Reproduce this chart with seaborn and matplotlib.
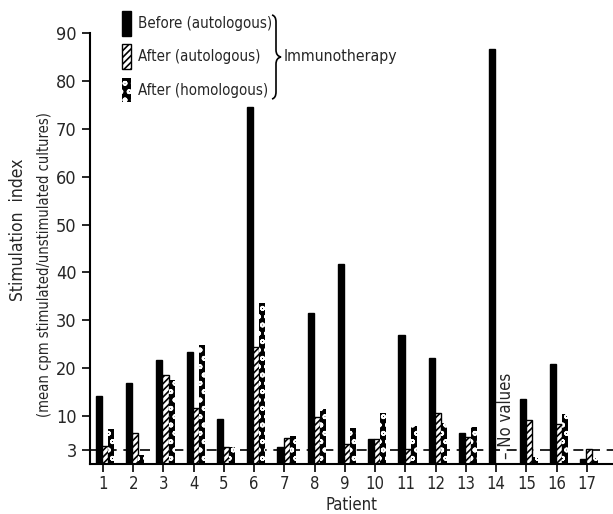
import numpy as np
import pandas as pd
import matplotlib
matplotlib.use("Agg")
import matplotlib.pyplot as plt
import seaborn as sns
from matplotlib.patches import Patch, PathPatch
from matplotlib.path import Path

# values (stimulation index per patient)
patients = [str(i) for i in range(1, 18)]
series = ["Before (autologous)", "After (autologous)", "After (homologous)"]
before_auto = [14.2, 17.0, 21.7, 23.4, 9.4, 74.6, 3.6, 31.5, 41.8, 5.2, 26.9, 22.1, 6.5, 86.6, 13.6, 20.9, 1.0]
after_auto = [3.8, 6.5, 18.6, 11.7, 3.5, 24.4, 5.4, 9.8, 4.2, 5.2, 3.2, 10.6, 5.7, np.nan, 9.2, 8.4, 3.1]
after_homo = [7.3, 1.9, 17.5, 24.8, 3.6, 33.6, 5.8, 11.5, 7.5, 10.6, 7.9, 8.6, 7.8, np.nan, 1.5, 10.4, 1.5]
y_ticks = [3, 10, 20, 30, 40, 50, 60, 70, 80, 90]
threshold = 3

df = pd.DataFrame({
    "patient": patients * 3,
    "group": [s for s in series for _ in patients],
    "value": before_auto + after_auto + after_homo,
})

sns.set_style("ticks")
plt.rcParams["font.family"] = ["DejaVu Sans"]
plt.rcParams["font.stretch"] = "condensed"
plt.rcParams["hatch.linewidth"] = 1.2

fig = plt.figure(figsize=(6.13, 5.14), dpi=100)
ax = fig.add_axes([90 / 613, 50 / 514, 523 / 613, 431 / 514])

sns.barplot(data=df, x="patient", y="value", hue="group", hue_order=series,
            palette=["black", "white", "black"], width=0.6, errorbar=None,
            edgecolor="black", linewidth=1, legend=False, ax=ax)

# hatching: diagonal stripes for "after autologous", white dots for "after homologous"
for p in ax.containers[1]:
    p.set_hatch("/////")
for p in ax.containers[2]:
    p.set_facecolor("black")
    p.set_edgecolor("white")
    p.set_linewidth(0)
    p.set_hatch("oo")

ax.axhline(threshold, color="black", linestyle=(0, (6, 4)), linewidth=1.2, zorder=0)

ax.set_xlim(-0.496, 16.79)
ax.set_ylim(0, 90)
ax.set_yticks(y_ticks)
ax.set_yticklabels([str(t) for t in y_ticks], fontsize=13)
ax.set_xticks([i - 0.07 for i in range(len(patients))])
ax.set_xticklabels(patients, fontsize=12)
ax.tick_params(axis="both", direction="out", length=6, width=1.2, color="black")
ax.tick_params(axis="x", pad=2)
ax.set_xlabel("Patient", fontsize=12, labelpad=2)
ax.set_ylabel("")
sns.despine(ax=ax)
for s in ["left", "bottom"]:
    ax.spines[s].set_linewidth(1.5)
    ax.spines[s].set_color("black")

ax.text(13.27, 1.0, "– No values", rotation=90, ha="center", va="bottom", fontsize=12)

fig.text(18 / 613, 1 - 230 / 514, "Stimulation  index", rotation=90,
         ha="center", va="center", fontsize=12.5)
fig.text(45 / 613, 1 - 265 / 514, "(mean cpm stimulated/unstimulated cultures)",
         rotation=90, ha="center", va="center", fontsize=10.5)

# legend with tall narrow swatches
handles = [
    Patch(facecolor="black", edgecolor="black", label=series[0]),
    Patch(facecolor="white", edgecolor="black", hatch="/////", label=series[1]),
    Patch(facecolor="black", edgecolor="white", linewidth=0, hatch="oo", label=series[2]),
]
ax.legend(handles=handles, loc="upper left", bbox_to_anchor=(32 / 523, 1 + 22 / 431),
          frameon=False, fontsize=10.8, handlelength=0.6, handleheight=2.15,
          labelspacing=0.58, handletextpad=0.5, borderpad=0, borderaxespad=0)

# curly brace grouping the legend entries
W, H = 613, 514
pts = [(272, 15), (276, 16), (276, 22), (276, 50), (276, 56), (281, 57),
       (276, 58), (276, 64), (276, 92), (276, 98), (272, 99)]
verts = [(x / W, 1 - y / H) for x, y in pts]
codes = [Path.MOVETO, Path.CURVE3, Path.CURVE3, Path.LINETO, Path.CURVE3, Path.CURVE3,
         Path.CURVE3, Path.CURVE3, Path.LINETO, Path.CURVE3, Path.CURVE3]
fig.add_artist(PathPatch(Path(verts, codes), transform=fig.transFigure,
                         facecolor="none", edgecolor="black", linewidth=1.2))
fig.text(284 / 613, 1 - 57 / 514, "Immunotherapy", ha="left", va="center", fontsize=11.3)

fig.savefig("out.png", dpi=100)
